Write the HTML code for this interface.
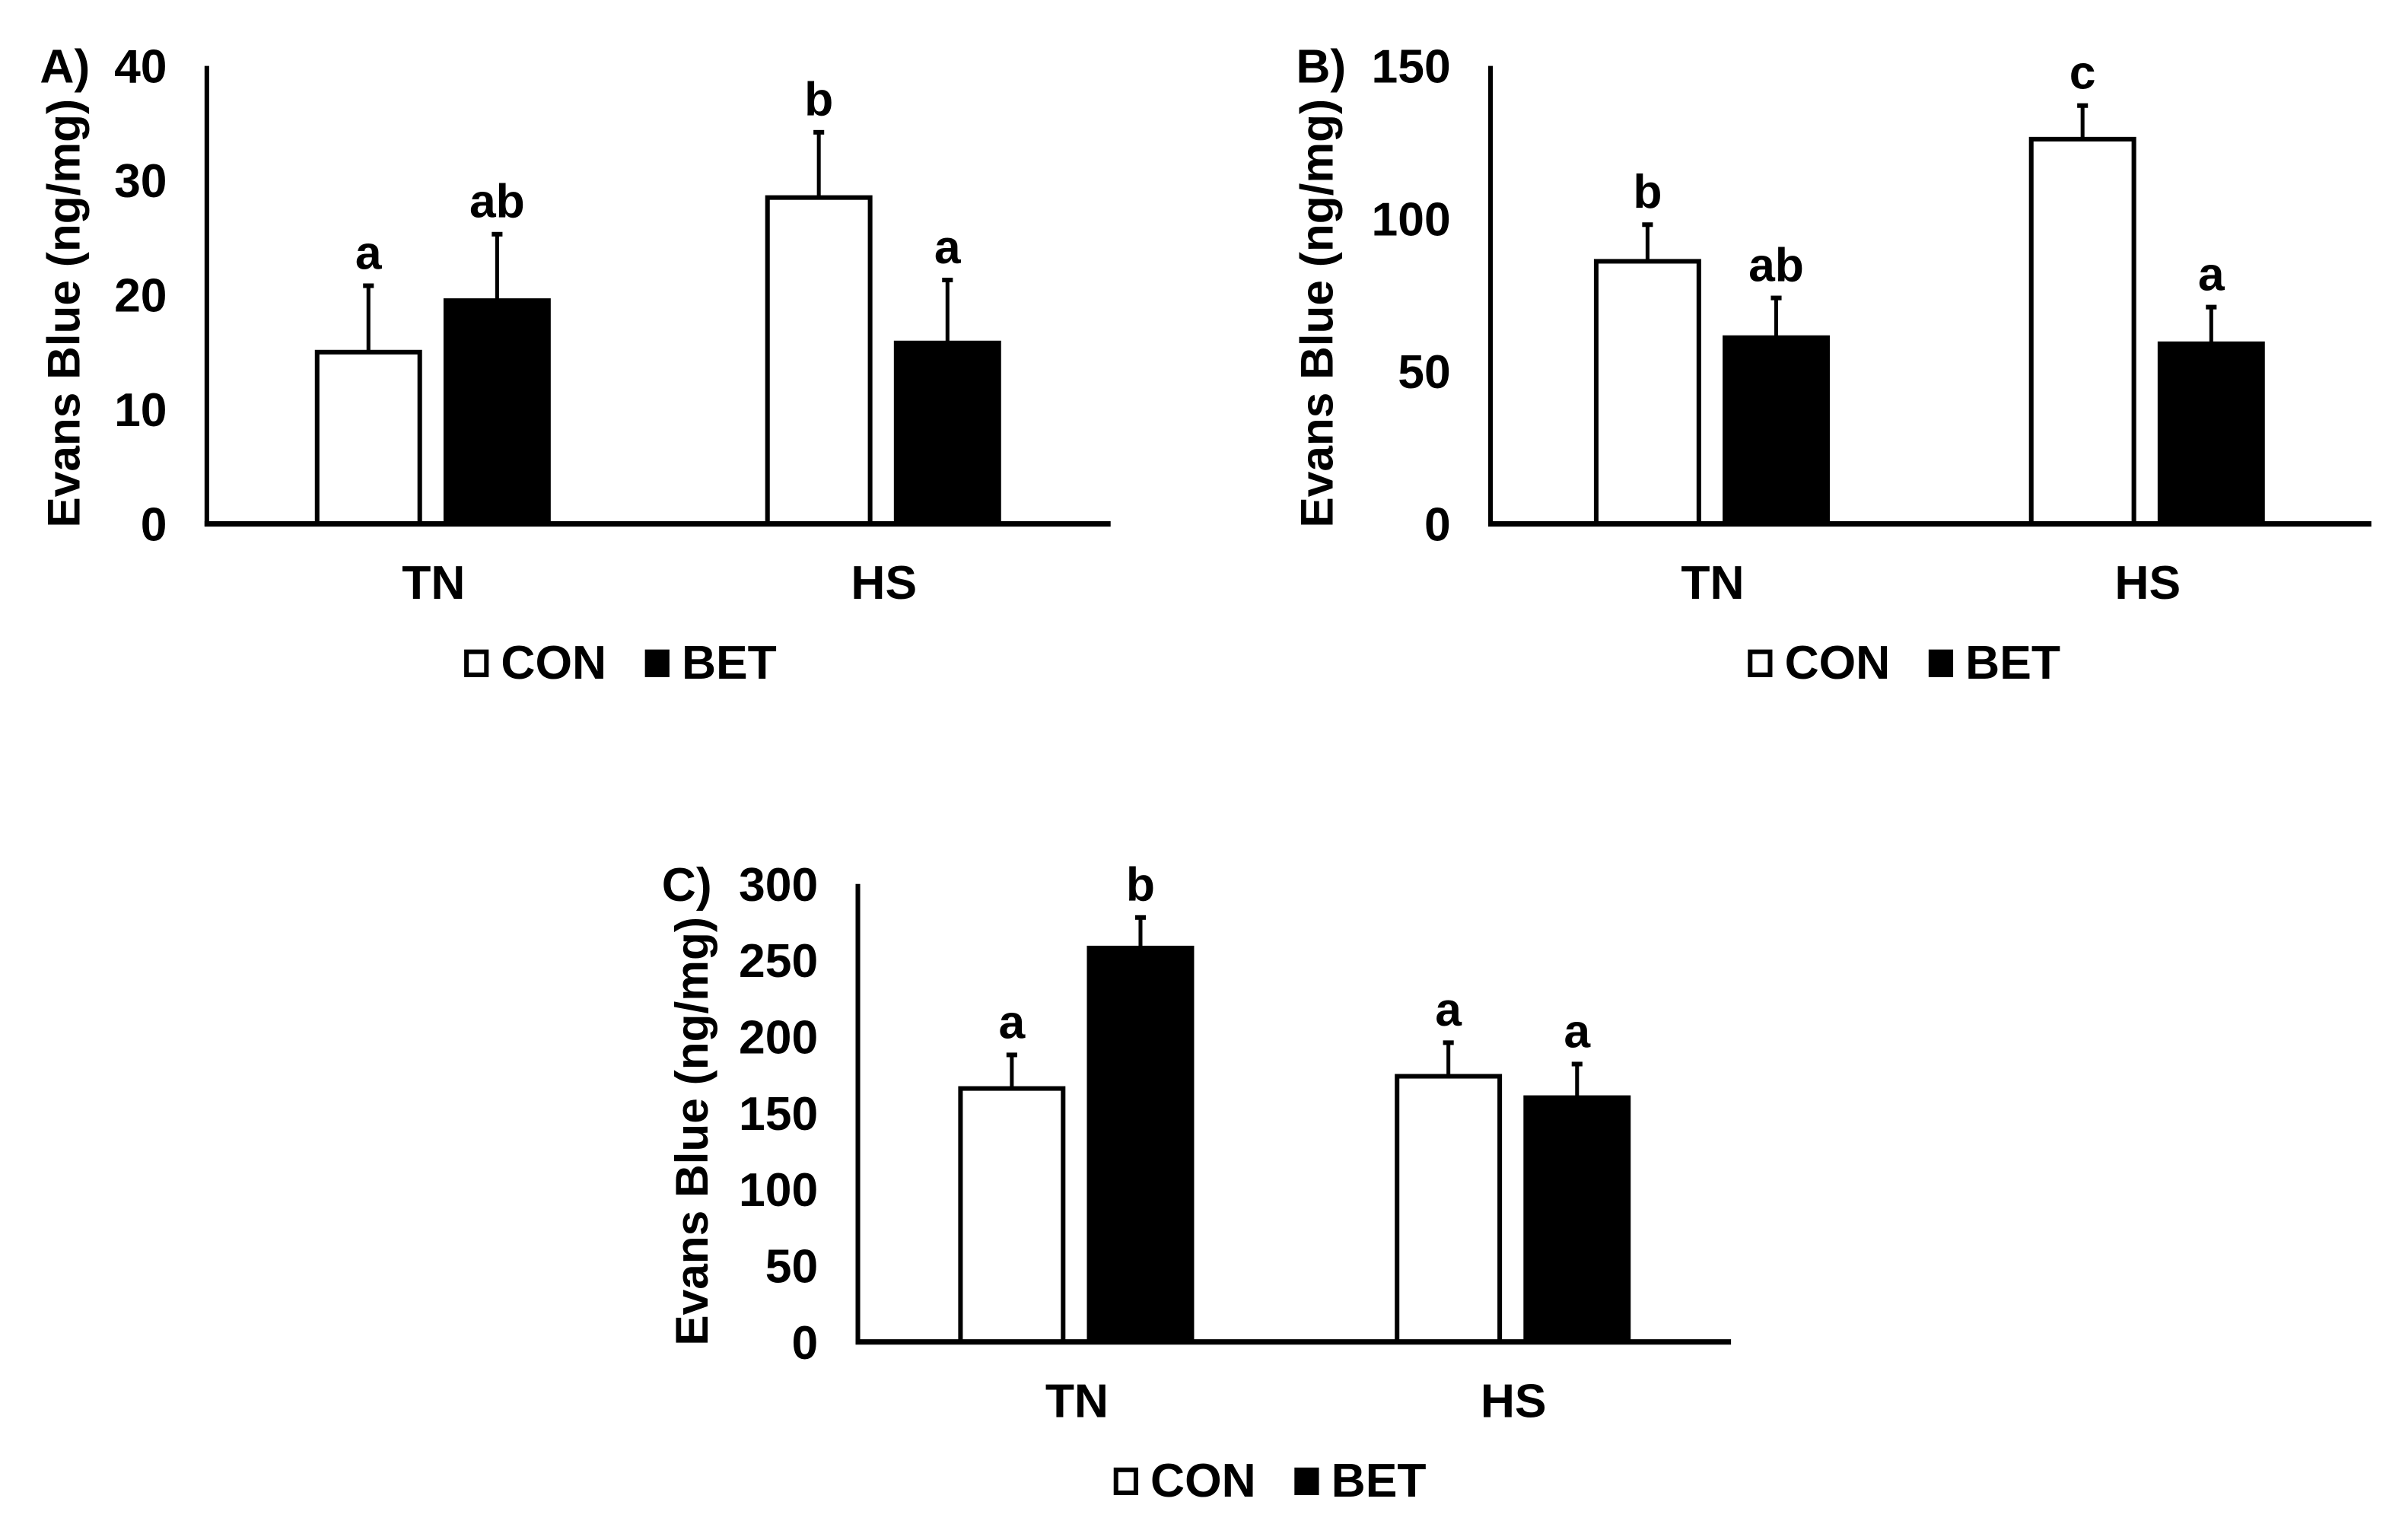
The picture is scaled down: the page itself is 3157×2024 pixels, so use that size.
<!DOCTYPE html>
<html><head><meta charset="utf-8">
<style>
html,body{margin:0;padding:0;background:#fff;}
svg{display:block;}
text{font-family:"Liberation Sans",Arial,sans-serif;font-weight:bold;fill:#000;}
</style></head>
<body>
<svg id="chart" width="3157" height="2024" viewBox="0 0 1568 1005.3" xmlns="http://www.w3.org/2000/svg"></svg>
<script>
// Panel A data
const groupsA = ["TN", "HS"];
const conA = [15, 28.5];
const conErrA = [20.8, 34.2];
const betA = [19.5, 15.8];
const betErrA = [25.3, 21.3];
const conLetA = ["a", "b"];
const betLetA = ["ab", "a"];
const ticksA = [0, 10, 20, 30, 40];
// Panel B data
const groupsB = ["TN", "HS"];
const conB = [86, 126];
const conErrB = [98, 137];
const betB = [61, 59];
const betErrB = [74, 71];
const conLetB = ["b", "c"];
const betLetB = ["ab", "a"];
const ticksB = [0, 50, 100, 150];
// Panel C data
const groupsC = ["TN", "HS"];
const conC = [166, 174];
const conErrC = [188, 196];
const betC = [258, 160];
const betErrC = [278, 182];
const conLetC = ["a", "a"];
const betLetC = ["b", "a"];
const ticksC = [0, 50, 100, 150, 200, 250, 300];

const NS = "http://www.w3.org/2000/svg";
const svg = document.getElementById("chart");
function mk(tag, attrs, parent) {
  const e = document.createElementNS(NS, tag);
  for (const k in attrs) e.setAttribute(k, attrs[k]);
  (parent || svg).appendChild(e);
  return e;
}
function txt(s, attrs, parent) { const t = mk("text", attrs, parent); t.textContent = s; return t; }

function panel(cfg) {
  const g = mk("g", {});
  
  
  const ymax = cfg.ticks[cfg.ticks.length - 1];
  const y = v => cfg.base - (v / ymax) * (cfg.base - cfg.top);
  cfg.ticks.forEach(t => {
    const tl = txt(String(t), {x: cfg.ax - 26, y: y(t) + 11, "font-size": 31, "text-anchor": "end"}, g);
    
    
  });
  const pl = txt(cfg.id.toUpperCase() + ")", {x: cfg.lx, y: cfg.top + 11, "font-size": 31}, g);
  
  
  const yt = txt("Evans Blue (ng/mg)", {x: 0, y: 0, "font-size": 30, "text-anchor": "middle", transform: `translate(${cfg.tx},${(cfg.top + cfg.base) / 2 + 12}) rotate(-90)`}, g);
  
  
  const bw = 67;
  cfg.groups.forEach((gr, i) => {
    const cx = cfg.gx[i];
    const defs = [
      {v: cfg.con[i], e: cfg.conErr[i], l: cfg.conLet[i], x: cx - 76, fill: "#fff", n: "con"},
      {v: cfg.bet[i], e: cfg.betErr[i], l: cfg.betLet[i], x: cx + 8, fill: "#000", n: "bet"}
    ];
    defs.forEach(d => {
      const mid = d.x + bw / 2;
      const eb = mk("line", {x1: mid, x2: mid, y1: y(d.v), y2: y(d.e), stroke: "#000", "stroke-width": 2.5}, g);
      
      
      mk("line", {x1: mid - 3.5, x2: mid + 3.5, y1: y(d.e), y2: y(d.e), stroke: "#000", "stroke-width": 3}, g);
      const r = mk("rect", {x: d.x, y: y(d.v), width: bw, height: cfg.base - y(d.v), fill: d.fill, stroke: "#000", "stroke-width": 3}, g);
      
      
      const lt = txt(d.l, {x: mid, y: y(d.e) - 11, "font-size": 31, "text-anchor": "middle"}, g);
      
      
    });
    const xl = txt(gr, {x: cx, y: cfg.base + 49, "font-size": 31, "text-anchor": "middle"}, g);
    
    
  });
  const ya = mk("line", {x1: cfg.ax, x2: cfg.ax, y1: cfg.top, y2: cfg.base + 1.5, stroke: "#000", "stroke-width": 3}, g);
  
  
  const xa = mk("line", {x1: cfg.ax - 1.5, x2: cfg.xe, y1: cfg.base, y2: cfg.base, stroke: "#000", "stroke-width": 3.5}, g);
  
  
  const lg = mk("g", {}, g);
  
  
  const ly = cfg.base + 90;
  mk("rect", {x: cfg.lgx + 1.5, y: ly - 8 + 1.5, width: 13, height: 15, fill: "#fff", stroke: "#000", "stroke-width": 3}, lg);
  txt("CON", {x: cfg.lgx + 24, y: ly + 11, "font-size": 31}, lg);
  mk("rect", {x: cfg.lgx + 118, y: ly - 8, width: 16, height: 18, fill: "#000"}, lg);
  txt("BET", {x: cfg.lgx + 142, y: ly + 11, "font-size": 31}, lg);
}

panel({id: "a", groups: groupsA, con: conA, conErr: conErrA, bet: betA, betErr: betErrA, conLet: conLetA, betLet: betLetA, ticks: ticksA,
  ax: 135, top: 43, base: 342, xe: 725, gx: [283, 577], lx: 26, tx: 52, lgx: 303});
panel({id: "b", groups: groupsB, con: conB, conErr: conErrB, bet: betB, betErr: betErrB, conLet: conLetB, betLet: betLetB, ticks: ticksB,
  ax: 973, top: 43, base: 342, xe: 1548, gx: [1118, 1402], lx: 846, tx: 870, lgx: 1141});
panel({id: "c", groups: groupsC, con: conC, conErr: conErrC, bet: betC, betErr: betErrC, conLet: conLetC, betLet: betLetC, ticks: ticksC,
  ax: 560, top: 577, base: 876, xe: 1130, gx: [703, 988], lx: 432, tx: 462, lgx: 727});
</script>
</body></html>
